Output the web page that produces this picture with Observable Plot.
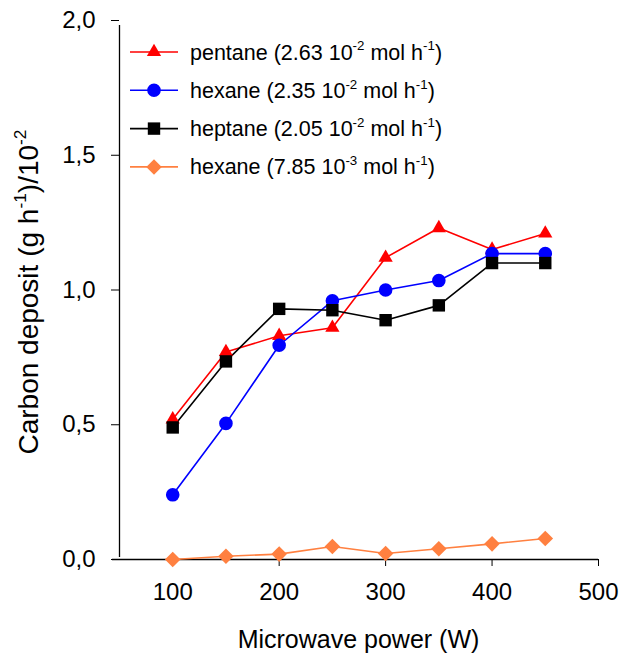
<!DOCTYPE html>
<html><head><meta charset="utf-8">
<script src="https://cdn.jsdelivr.net/npm/d3@7"></script>
<script src="https://cdn.jsdelivr.net/npm/@observablehq/plot@0.6"></script>
<style>
body{margin:0;background:#fff}
svg{font-family:"Liberation Sans",Arial,sans-serif}
</style>
</head><body><div id="chart"></div>
<script>
const power = [100,150,200,250,300,350,400,450];
const pentane = [0.52,0.77,0.83,0.86,1.12,1.23,1.15,1.21];
const hexane = [0.24,0.505,0.795,0.96,1.0,1.035,1.135,1.135];
const heptane = [0.49,0.735,0.93,0.925,0.888,0.943,1.10,1.10];
const hexaneLow = [0.0,0.012,0.02,0.048,0.022,0.04,0.058,0.078];
const seriesKeys = ["pentane-a","hexane-a","heptane-a","hexane-b"];
const seriesNames = ["pentane","hexane","heptane","hexane"];
const seriesRates = ["2.63","2.35","2.05","7.85"];
const rateExp = ["-2","-2","-2","-3"];
const colors = ["#ff0000","#0000ff","#000000","#ff8040"];
const symbols = ["triangle","circle","square","diamond2"];
const radii = [5.3,6.8,7,7];
const xTicks = [100,200,300,400,500];
const yTicks = [0,0.5,1.0,1.5,2.0];
const xTitle = "Microwave power (W)";

const allSeries = [pentane, hexane, heptane, hexaneLow];
const data = [];
allSeries.forEach((vals, i) => vals.forEach((v, j) => data.push({key: seriesKeys[i], idx: i, x: power[j], y: v})));

const W = 622, H = 660;
const mL = 119, mR = 24, mT = 20, mB = 101;

const marks = [
  Plot.ruleX([50], {y1: 0, y2: 2, insetBottom: -5, insetTop: -2, stroke: "#000", strokeWidth: 1.3}),
  Plot.ruleY([0], {x1: 50, x2: 500, insetLeft: -7, stroke: "#000", strokeWidth: 1.3}),
  Plot.axisX({ticks: xTicks, tickSize: 7, tickPadding: 16, fontSize: 24, label: null, tickFormat: d => String(d)}),
  Plot.axisY({ticks: yTicks, tickSize: 8, tickPadding: 16, fontSize: 24, label: null, tickFormat: d => d.toFixed(1).replace(".", ",")})
];
allSeries.forEach((vals, i) => {
  const d = data.filter(r => r.idx === i);
  marks.push(Plot.line(d, {x: "x", y: "y", stroke: colors[i], strokeWidth: 1.6}));
});
allSeries.forEach((vals, i) => {
  const d = data.filter(r => r.idx === i);
  marks.push(Plot.dot(d, {x: "x", y: "y", fill: colors[i], stroke: "none", symbol: () => symbols[i], r: radii[i]}));
});

const svg = Plot.plot({
  width: W, height: H,
  marginLeft: mL, marginRight: mR, marginTop: mT, marginBottom: mB,
  style: {fontFamily: '"Liberation Sans", Arial, sans-serif', color: "#000", background: "#fff"},
  x: {domain: [50, 500]},
  y: {domain: [0, 2]},
  symbol: {domain: symbols, range: symbols},
  marks
});
document.getElementById("chart").appendChild(svg);

const s = d3.select(svg);

function supText(g, parts, fs) {
  let pendingDy = 0;
  parts.forEach(p => {
    const ts = g.append("tspan");
    if (p.sup) {
      ts.attr("font-size", fs * 0.62).attr("dy", pendingDy - fs * 0.42);
      pendingDy = fs * 0.42;
    } else {
      ts.attr("font-size", fs).attr("dy", pendingDy);
      pendingDy = 0;
    }
    ts.text(p.t);
  });
}

// x title
s.append("text").attr("x", (mL + (W - mR)) / 2).attr("y", 648)
  .attr("text-anchor", "middle").attr("font-size", 25).attr("fill", "#000").text(xTitle);

// y title
const yt = s.append("text").attr("transform", `translate(38,292) rotate(-90)`)
  .attr("text-anchor", "middle").attr("font-size", 28).attr("fill", "#000");
supText(yt, [{t: "Carbon deposit (g h"}, {t: "-1", sup: true}, {t: ")/10"}, {t: "-2", sup: true}], 28);

// legend
const symMap = {triangle: d3.symbolTriangle, circle: d3.symbolCircle, square: d3.symbolSquare, diamond2: d3.symbolDiamond2};
const lg = s.append("g").attr("text-anchor", "start");
seriesKeys.forEach((k, i) => {
  const y = 52 + i * 38.3;
  lg.append("line").attr("x1", 130).attr("x2", 178).attr("y1", y).attr("y2", y).attr("stroke", colors[i]).attr("stroke-width", 1.6);
  lg.append("path").attr("transform", `translate(154,${y})`)
    .attr("d", d3.symbol(symMap[symbols[i]], Math.PI * radii[i] * radii[i])()).attr("fill", colors[i]);
  const t = lg.append("text").attr("x", 190).attr("y", y + 7.5).attr("text-anchor", "start").attr("font-size", 21.5).attr("fill", "#000");
  supText(t, [{t: `${seriesNames[i]} (${seriesRates[i]} 10`}, {t: rateExp[i], sup: true}, {t: " mol h"}, {t: "-1", sup: true}, {t: ")"}], 21.5);
});
</script>
</body></html>
